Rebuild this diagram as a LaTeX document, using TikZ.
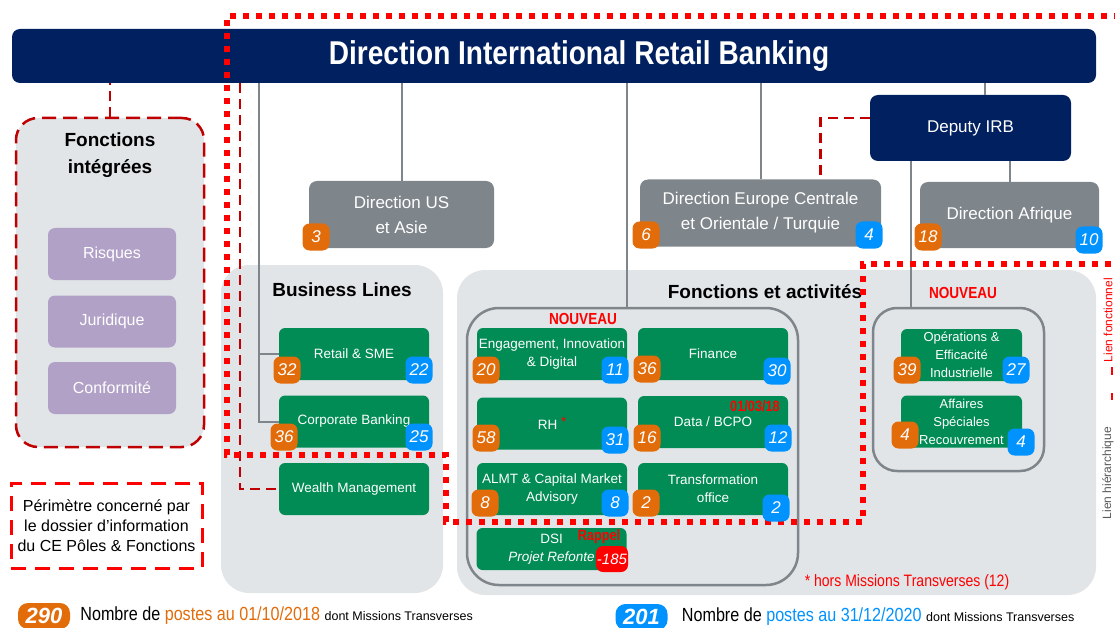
\documentclass[tikz,border=0pt]{standalone}
\usepackage{fontspec}
\setmainfont{Liberation Sans}
\newfontfamily\narrowfont[FakeStretch=0.85]{Liberation Sans}
\usetikzlibrary{positioning}
\definecolor{irbnavy}{RGB}{0,32,96}
\definecolor{irbgray}{RGB}{127,134,139}
\definecolor{irbdark}{RGB}{89,89,89}
\definecolor{irbgreen}{RGB}{0,140,84}
\definecolor{irborange}{RGB}{226,108,10}
\definecolor{irbblue}{RGB}{0,146,255}
\definecolor{irbpanel}{RGB}{226,229,232}
\definecolor{irbpurple}{RGB}{177,161,199}
\definecolor{irbred}{RGB}{255,0,0}
\definecolor{irbdarkred}{RGB}{192,0,0}
\newcommand{\fsz}[2]{\fontsize{#1}{#2}\selectfont}

\begin{document}
\begin{tikzpicture}[x=1pt, y=-1pt,
  navybox/.style={fill=irbnavy, text=white, rounded corners=8pt, inner sep=0pt},
  dirbox/.style={fill=irbgray, text=white, rounded corners=8pt, align=center, font={\fsz{17}{25}}, minimum height=67pt, inner sep=0pt},
  unit/.style={fill=irbgreen, text=white, rounded corners=6pt, align=center, font={\fsz{13.5}{18}}, minimum width=150pt, minimum height=52pt, inner sep=0pt},
  fct/.style={fill=irbpurple, text=white, rounded corners=7pt, font={\fsz{16}{18}}, minimum width=128pt, minimum height=52pt},
  panel/.style={fill=irbpanel, rounded corners=28pt, inner sep=0pt},
  group/.style={draw=irbgray, line width=2.5pt, rounded corners=32pt, inner sep=0pt},
  title/.style={font={\fsz{19}{27}\bfseries}, align=center},
  news/.style={text=irbred, font={\narrowfont\fsz{16}{16}\bfseries}},
  orb/.style={fill=irborange, text=white, rounded corners=7pt, font={\fsz{17}{17}\itshape}, minimum width=27pt, minimum height=27pt, inner sep=1pt},
  blb/.style={orb, fill=irbblue},
  link/.style={draw=irbgray, line width=2pt},
  funlink/.style={draw=irbdarkred, line width=2.5pt, dash pattern=on 10pt off 6pt},
  perimeter/.style={draw=irbred, line width=6pt, dash pattern=on 6pt off 7pt}]
\useasboundingbox (0,0) rectangle (1115,628);

% panneaux
\node[panel, minimum width=222pt, minimum height=328pt] (blpanel) at (332,429) {};
\node[panel, minimum width=639pt, minimum height=325pt] (fapanel) at (776.5,432.5) {};
\node[group, minimum width=331pt, minimum height=277pt] (fa) at (632.5,446.5) {};
\node[group, rounded corners=24pt, minimum width=171pt, minimum height=163pt] (fo) at (958.5,389.5) {};
\node[panel, draw=irbdarkred, line width=2.5pt, dash pattern=on 14pt off 7pt, rounded corners=22pt, minimum width=188pt, minimum height=329pt] (fi) at (110,282.5) {};
\node[title] (fititle) at (110,155) {Fonctions\\intégrées};
\node[title] (bltitle) at (342,290) {Business Lines};
\node[title] (fatitle) at (765,292) {Fonctions et activités};
\node[news] (new1) at (583,319) {NOUVEAU};
\node[news] (new2) at (963,293) {NOUVEAU};

\node[fct] (risques) at (112,254) {Risques};
\node[fct] (juridique) at (112,321.5) {Juridique};
\node[fct] (conformite) at (112,388) {Conformité};

% direction
\node[navybox, minimum width=1084pt, minimum height=54pt] (irb) at (554,56) {};
\node[text=white, font={\narrowfont\fsz{33}{33}\bfseries}] (irbtitle) at (579,56) {Direction International Retail Banking};
\node[navybox, font={\fsz{17}{17}}, minimum width=201pt, minimum height=66pt] (deputy) at (970.5,128) {Deputy IRB};
\node[dirbox, minimum width=185pt] (us) at (401.5,214.5) {Direction US\\et Asie};
\node[dirbox, minimum width=241pt] (eu) at (760.5,213) {Direction Europe Centrale\\et Orientale / Turquie};
\node[dirbox, minimum width=179pt, minimum height=66pt] (af) at (1009.5,215) {Direction Afrique};

% metiers et fonctions
\node[unit] (retail) at (354,354) {Retail \& SME};
\node[unit] (corp) at (354,421.5) {Corporate Banking};
\node[unit] (wealth) at (354,489) {Wealth Management};
\node[unit] (engage) at (552,354) {Engagement, Innovation\\\& Digital};
\node[unit] (finance) at (713,354) {Finance};
\node[unit] (rh) at (552,423.5) {RH \raisebox{3pt}{\textcolor{irbred}{*}}};
\node[unit] (data) at (713,422) {Data / BCPO};
\node[unit] (almt) at (552,489) {ALMT \& Capital Market\\Advisory};
\node[unit] (transfo) at (713,489) {Transformation\\office};
\node[unit, minimum height=42pt] (dsi) at (551.5,549) {DSI\\\textit{Projet Refonte}};
\node[unit, font={\fsz{13}{18}}, minimum width=121pt] (ops) at (961.5,355) {Opérations \&\\Efficacité\\Industrielle};
\node[unit, font={\fsz{13}{18}}, minimum width=121pt] (affaires) at (961.5,421.5) {Affaires\\Spéciales\\Recouvrement};
\node[news, font={\narrowfont\fsz{15}{15}\bfseries}] (datedata) at (755,406) {01/03/18};
\node[news, font={\narrowfont\fsz{15}{15}\bfseries}] (rappel) at (599,537) {Rappel};

% liens
\draw[link] ([xshift=-20pt]retail.west |- irb.south) |- (retail.west);
\draw[link] ([xshift=-20pt]corp.west |- irb.south) |- (corp.west);
\draw[link] (us.north) -- (us.north |- irb.south);
\draw[link] ([xshift=-6pt]fa.north) -- ([xshift=-6pt]fa.north |- irb.south);
\draw[link] (eu.north) -- (eu.north |- irb.south);
\draw[link] ([xshift=14.5pt]deputy.north) -- ([xshift=14.5pt]deputy.north |- irb.south);
\draw[link] (af.north) -- (af.north |- deputy.south);
\draw[link] ([xshift=-60pt]deputy.south) -- ([xshift=-60pt]deputy.south |- fo.north);
\draw[funlink] (fi.north) -- (fi.north |- irb.south);
\draw[funlink] ([xshift=-39pt]wealth.west |- irb.south) |- (wealth.west);
\draw[funlink] ([yshift=10pt]deputy.west) -| ([xshift=60pt]eu.north);

% perimetre CE
\draw[perimeter] (1120,16) -- (227,16) -- (227,455) -- (446,455) -- (446,522) -- (863,522) -- (863,264) -- (1120,264);

% effectifs
\node[orb] (us-o) at (316,237) {3};
\node[orb] (eu-o) at (646,235) {6};
\node[blb] (eu-b) at (869,235) {4};
\node[orb] (af-o) at (928,237) {18};
\node[blb] (af-b) at (1089,240) {10};
\node[orb] (retail-o) at (287,370) {32};
\node[blb] (retail-b) at (419,370) {22};
\node[orb] (corp-o) at (284,437) {36};
\node[blb] (corp-b) at (419,437) {25};
\node[orb] (engage-o) at (486,370) {20};
\node[blb] (engage-b) at (615,370) {11};
\node[orb] (finance-o) at (647,369) {36};
\node[blb] (finance-b) at (777,371) {30};
\node[orb] (rh-o) at (486,438) {58};
\node[blb] (rh-b) at (615,440) {31};
\node[orb] (data-o) at (647,438) {16};
\node[blb] (data-b) at (778,438) {12};
\node[orb] (almt-o) at (485,503) {8};
\node[blb] (almt-b) at (615,503) {8};
\node[orb] (transfo-o) at (646,503) {2};
\node[blb] (transfo-b) at (776,508) {2};
\node[orb, fill=irbred, font={\fsz{15}{15}\itshape}, minimum width=32pt, minimum height=26pt] (dsi-r) at (612,559) {-185};
\node[orb] (ops-o) at (907,370) {39};
\node[blb] (ops-b) at (1016,370) {27};
\node[orb] (affaires-o) at (905,435) {4};
\node[blb] (affaires-b) at (1021,442) {4};

% legende
\node[draw=irbred, line width=3pt, dash pattern=on 15pt off 9pt, minimum width=191pt, minimum height=85pt, align=center, font={\fsz{16}{20}}] (perim) at (106.5,525.5) {Périmètre concerné par\\le dossier d’information\\du CE Pôles \& Fonctions};
\node[text=irbred, font={\narrowfont\fsz{16.5}{16.5}}] (horsmt) at (907,582) {* hors Missions Transverses (12)};
\node[orb, font={\fsz{22}{22}\bfseries\itshape}, rounded corners=10pt, minimum width=52pt, minimum height=26pt] (tot18) at (44,616) {290};
\node[right=10pt of tot18, inner sep=0pt, font={\narrowfont\fsz{19}{19}}] (tot18txt) {Nombre de \textcolor{irborange}{postes au 01/10/2018} {\fontspec{Liberation Sans}\fsz{12.5}{12.5}dont Missions Transverses}};
\node[blb, font={\fsz{22}{22}\bfseries\itshape}, rounded corners=10pt, minimum width=52pt, minimum height=26pt] (tot20) at (641.5,617) {201};
\node[right=14pt of tot20, inner sep=0pt, font={\narrowfont\fsz{19}{19}}] (tot20txt) {Nombre de \textcolor{irbblue}{postes au 31/12/2020} {\fontspec{Liberation Sans}\fsz{12.5}{12.5}dont Missions Transverses}};
\node[rotate=90, text=irbred, font={\fsz{12}{12}}] (lienfct) at (1108,320) {Lien fonctionnel};
\draw[funlink, draw=irbred, line width=2pt, dash pattern=on 8pt off 18pt] (1112,367) -- (1112,400);
\node[rotate=90, text=irbdark, font={\fsz{12}{12}}] (lienhier) at (1108,473) {Lien hiérarchique};
\end{tikzpicture}
\end{document}
